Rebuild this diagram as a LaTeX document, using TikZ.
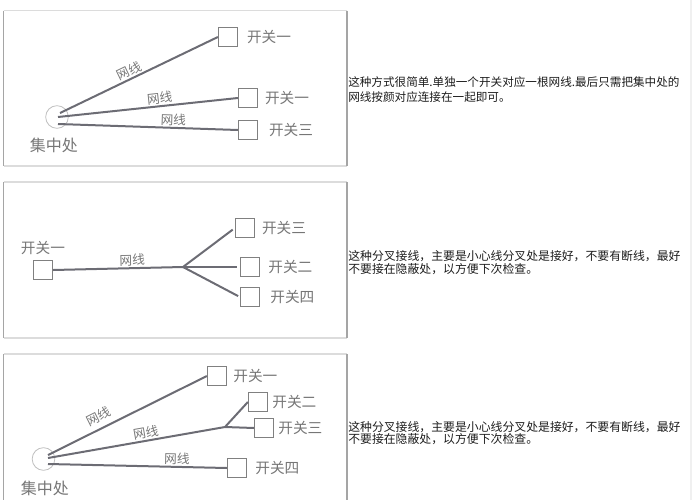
\documentclass[tikz,border=0pt]{standalone}
\usepackage{fontspec}
\setmainfont{Noto Sans CJK SC}
\usetikzlibrary{positioning}
\definecolor{wire}{RGB}{108, 108, 116}
\definecolor{boxline}{RGB}{128, 128, 128}
\definecolor{labelgray}{RGB}{118, 118, 118}
\definecolor{frameside}{RGB}{165, 165, 165}
\definecolor{frametop}{RGB}{220, 220, 220}
\definecolor{notetext}{RGB}{28, 28, 28}

\tikzset{
  switchbox/.style={draw=boxline, line width=0.7pt, minimum size=14.5pt, inner sep=0pt},
  hubring/.style={circle, draw=gray!50, line width=0.6pt, minimum size=17pt, inner sep=0pt},
  wirec/.style={wire, line width=1.5pt},
  swlabel/.style={text=labelgray, font=\fontsize{11}{11}\selectfont, inner sep=0pt},
  hublabel/.style={text=labelgray, font=\fontsize{12}{12}\selectfont, inner sep=0pt},
  wirelabel/.style={text=labelgray, font=\fontsize{9.5}{9.5}\selectfont, sloped, inner sep=1pt},
  note/.style={text=notetext, align=left, anchor=west, inner sep=0pt}
}

\begin{document}
\begin{tikzpicture}[x=0.75pt, y=-0.75pt]
            \useasboundingbox (0, 0) rectangle (697, 500);
            % Frames
            \draw[frametop,  line width=1.1pt] (  3.5,  10.5) -- (347.0,  10.5);
            \draw[frametop,  line width=1.1pt] (  3.5, 166.0) -- (347.0, 166.0);
            \draw[frameside, line width=1.1pt] (  3.5,  10.5) -- (  3.5, 166.0);
            \draw[frameside, line width=1.1pt] (347.0,  10.5) -- (347.0, 166.0);
            \draw[frametop,  line width=1.1pt] (  3.5, 182.0) -- (347.0, 182.0);
            \draw[frametop,  line width=1.1pt] (  3.5, 338.0) -- (347.0, 338.0);
            \draw[frameside, line width=1.1pt] (  3.5, 182.0) -- (  3.5, 338.0);
            \draw[frameside, line width=1.1pt] (347.0, 182.0) -- (347.0, 338.0);
            \draw[frametop,  line width=1.1pt] (  3.5, 354.0) -- (347.0, 354.0);
            \draw[frameside, line width=1.1pt] (  3.5, 354.0) -- (  3.5, 500.0);
            \draw[frameside, line width=1.1pt] (347.0, 354.0) -- (347.0, 500.0);
            \draw[gray!12,   line width=1.2pt] (691.0,   0.0) -- (691.0, 500.0);

            % Star wiring
            \node[hubring]   (hub1)    at ( 57.0, 117.0) {};
            \node[hublabel]  (hub1txt) at ( 54.0, 145.0) {集中处};
            \node[switchbox] (s11)     at (228.0,  37.0) {};
            \node[switchbox] (s12)     at (248.0,  98.0) {};
            \node[switchbox] (s13)     at (248.0, 130.0) {};
            \node[swlabel, right=6.5pt of s11] (l11) {开关一};
            \node[swlabel, right=5.0pt of s12] (l12) {开关一};
            \node[swlabel, right=8.0pt of s13] (l13) {开关三};
            \coordinate (h1a) at ( 60.0, 113.0);
            \coordinate (h1b) at ( 58.0, 117.0);
            \coordinate (h1c) at ( 58.0, 124.0);
            \draw[wirec] (h1a) -- (s11.west) node[wirelabel, pos=0.46, above] {网线};
            \draw[wirec] (h1b) -- (s12.west) node[wirelabel, pos=0.57, above] {网线};
            \draw[wirec] (h1c) -- (s13.west) node[wirelabel, pos=0.64, above] {网线};

            % Fork wiring
            \node[switchbox] (s21)     at ( 43.0, 270.0) {};
            \node[swlabel, above=4pt of s21] (l21) {开关一};
            \coordinate (fork2) at (183.0, 267.0);
            \node[switchbox] (s23)     at (245.0, 228.0) {};
            \node[switchbox] (s22)     at (250.0, 267.0) {};
            \node[switchbox] (s24)     at (250.0, 297.0) {};
            \node[swlabel, right=5.0pt of s23] (l23) {开关三};
            \node[swlabel, right=6.0pt of s22] (l22) {开关二};
            \node[swlabel, right=7.5pt of s24] (l24) {开关四};
            \draw[wirec] (s21.east) -- (fork2) node[wirelabel, pos=0.61, above] {网线};
            \draw[wirec, shorten >=2pt] (fork2) -- (s23.west);
            \draw[wirec, shorten >=2pt] (fork2) -- (s22.west);
            \draw[wirec, shorten >=1.5pt] (fork2) -- (s24.west);

            % Star + fork wiring
            \node[hubring]   (hub3)    at ( 43.5, 459.0) {};
            \node[hublabel]  (hub3txt) at ( 45.0, 488.0) {集中处};
            \node[switchbox] (s31)     at (217.0, 376.0) {};
            \node[switchbox] (s32)     at (258.0, 402.0) {};
            \node[switchbox] (s33)     at (264.0, 428.0) {};
            \node[switchbox] (s34)     at (237.0, 468.0) {};
            \node[swlabel, right=4.5pt of s31] (l31) {开关一};
            \node[swlabel, right=3.0pt of s32] (l32) {开关二};
            \node[swlabel, right=3.0pt of s33] (l33) {开关三};
            \node[swlabel, right=6.0pt of s34] (l34) {开关四};
            \coordinate (h3a)   at ( 48.0, 455.0);
            \coordinate (h3b)   at ( 48.0, 458.0);
            \coordinate (h3c)   at ( 48.0, 464.0);
            \coordinate (fork3) at (225.0, 427.0);
            \draw[wirec] (h3a) -- (s31.west) node[wirelabel, pos=0.35, above=3pt] {网线};
            \draw[wirec] (h3b) -- (fork3) node[wirelabel, pos=0.56, above] {网线} -- (s33.west);
            \draw[wirec] (fork3) -- (s32.west);
            \draw[wirec] (h3c) -- (s34.west) node[wirelabel, pos=0.72, above] {网线};

            % Notes
            \node[note, font=\fontsize{8.7}{11}\selectfont] (note1) at (348.0,  89.5)
                 {这种方式很简单.单独一个开关对应一根网线.最后只需把集中处的\\网线按颜对应连接在一起即可。};
            \node[note, font=\fontsize{8.9}{9.4}\selectfont] (note2) at (348.0, 262.5)
                 {这种分叉接线，主要是小心线分叉处是接好，不要有断线，最好\\不要接在隐蔽处，以方便下次检查。};
            \node[note, font=\fontsize{8.9}{9.4}\selectfont] (note3) at (348.0, 433.0)
                 {这种分叉接线，主要是小心线分叉处是接好，不要有断线，最好\\不要接在隐蔽处，以方便下次检查。};
        \end{tikzpicture}
\end{document}
